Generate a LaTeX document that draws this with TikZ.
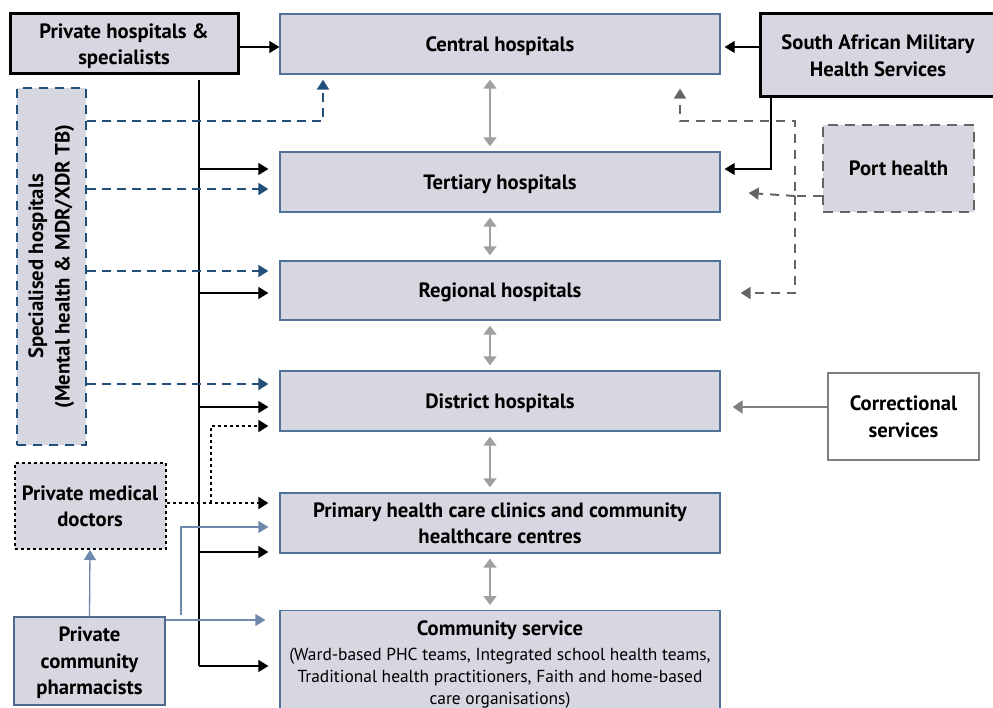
\documentclass[tikz,border=0pt]{standalone}
\usepackage{fontspec}
\setmainfont{PT Sans}
\usetikzlibrary{arrows.meta}
\definecolor{boxfill}{RGB}{215,215,225}
\definecolor{mainedge}{RGB}{80,115,155}
\definecolor{specblue}{RGB}{35,80,122}
\definecolor{pharmblue}{RGB}{80,105,140}
\definecolor{pharmline}{RGB}{110,135,170}
\definecolor{dgray}{RGB}{100,100,100}
\definecolor{mgray}{RGB}{128,128,128}
\definecolor{lgray}{RGB}{160,160,160}
\newcommand{\rg}{\mdseries\fontsize{17.4}{22}\selectfont}
\tikzset{
  lbl/.style={font=\bfseries\fontsize{20.7}{26.5}\selectfont, align=center, text depth=0pt},
  mainbox/.style={lbl, draw=mainedge, line width=1.3pt, fill=boxfill, minimum width=440, minimum height=60, inner sep=0},
  blackbox/.style={lbl, draw=black, line width=3pt, fill=boxfill, inner sep=0},
  blk/.style={black, line width=1.2pt, -{Triangle[length=10pt,width=12pt]}},
  bluedash/.style={specblue, line width=2pt, dash pattern=on 9pt off 6pt, -{Triangle[length=10pt,width=12pt]}},
  dotline/.style={black, line width=2pt, dash pattern=on 3pt off 3pt, -{Triangle[length=10pt,width=12pt]}},
  pline/.style={pharmline, line width=1.3pt, -{Triangle[length=10pt,width=12pt]}},
  grayarr/.style={lgray, line width=1.8pt, {Triangle[length=9pt,width=13pt]}-{Triangle[length=9pt,width=13pt]}, shorten <=5pt, shorten >=5pt},
  portdash/.style={dgray, line width=2pt, dash pattern=on 9pt off 7pt, -{Triangle[length=10pt,width=12pt]}},
}
\begin{document}
\begin{tikzpicture}[x=1pt,y=-1pt]
\useasboundingbox (0,0) rectangle (993,708);
% main column
\node[mainbox] (central) at (500,44) {Central hospitals};
\node[mainbox] (tertiary) at (500,182) {Tertiary hospitals};
\node[mainbox, minimum height=59] (regional) at (500,290.5) {Regional hospitals};
\node[mainbox] (district) at (500,401) {District hospitals};
\node[mainbox] (phc) at (500,523) {Primary health care clinics and community\\healthcare centres};
\node[mainbox, font=\bfseries\fontsize{20.7}{22}\selectfont, minimum height=110, anchor=north, text depth=6pt] (community) at (500,610) {Community service\\[3pt]\rg (Ward-based PHC teams, Integrated school health teams,\\\rg Traditional health practitioners, Faith and home-based\\\rg care organisations)};
% side boxes
\node[blackbox, minimum width=228, minimum height=60] (privhosp) at (124,44) {Private hospitals \&\\specialists};
\node[blackbox, minimum width=236, minimum height=83] (samhs) at (878,55.5) {South African Military\\Health Services};
\node[lbl, draw=dgray, line width=2.5pt, dash pattern=on 10pt off 7pt, fill=boxfill, minimum width=151, minimum height=87, inner sep=0] (port) at (898.5,168.5) {Port health};
\node[lbl, draw=mgray, line width=1.8pt, fill=white, minimum width=151, minimum height=87, inner sep=0] (correct) at (903.5,416.5) {Correctional\\services};
\node[lbl, draw=specblue, line width=2.5pt, dash pattern=on 9pt off 7pt, fill=boxfill, minimum width=69, minimum height=357, inner sep=0] (special) at (51.5,266.5) {};
\node[lbl, rotate=90, text depth=5pt] at (special.center) {Specialised hospitals\\(Mental health \& MDR/XDR TB)};
\node[lbl, draw=black, line width=2pt, dash pattern=on 3pt off 3pt, fill=boxfill, minimum width=151, minimum height=86, inner sep=0] (doctors) at (90,506) {Private medical\\doctors};
\node[lbl, draw=pharmblue, line width=2pt, fill=boxfill, minimum width=151, minimum height=88, inner sep=0] (pharm) at (89.5,661) {Private\\community\\pharmacists};
% gray double arrows between levels
\draw[grayarr] (central.south -| 490,0) -- (tertiary.north -| 490,0);
\draw[grayarr] (tertiary.south -| 490,0) -- (regional.north -| 490,0);
\draw[grayarr] (regional.south -| 490,0) -- (district.north -| 490,0);
\draw[grayarr] (district.south -| 490,0) -- (phc.north -| 490,0);
\draw[grayarr] (phc.south -| 490,0) -- (community.north -| 490,0);
% private hospitals
\draw[blk] (privhosp.east |- 0,47) -- (central.west |- 0,47);
\coordinate (trunktop) at (199,80);
\coordinate (trunkbot) at (199,666);
\draw[black, line width=1.2pt] (trunktop) -- (trunkbot);
\draw[blk] (199,169) -- ([xshift=-11pt]tertiary.west |- 0,169);
\draw[blk] (199,293) -- ([xshift=-11pt]regional.west |- 0,293);
\draw[blk] (199,407) -- ([xshift=-11pt]district.west |- 0,407);
\draw[blk] (199,552) -- ([xshift=-11pt]phc.west |- 0,552);
\draw[blk] (trunkbot) -- ([xshift=-11pt]community.west |- 0,666);
% SAMHS
\draw[blk] (samhs.west |- 0,47) -- ([xshift=4pt]central.east |- 0,47);
\draw[blk] (samhs.south -| 771,0) -- (771,169) -- ([xshift=4pt]tertiary.east |- 0,169);
% specialised
\draw[bluedash] (special.east |- 0,121) -- (323,121) -- ([yshift=-5pt]central.south -| 323,0);
\draw[bluedash] (special.east |- 0,189) -- ([xshift=-11pt]tertiary.west |- 0,189);
\draw[bluedash] (special.east |- 0,271) -- ([xshift=-11pt]regional.west |- 0,271);
\draw[bluedash] (special.east |- 0,384) -- ([xshift=-11pt]district.west |- 0,384);
% doctors
\draw[dotline] (doctors.east |- 0,503) -- ([xshift=-11pt]phc.west |- 0,503);
\draw[dotline] (211,503) -- (211,426) -- ([xshift=-11pt]district.west |- 0,426);
% pharmacists
\draw[pline] (pharm.north) -- (doctors.south);
\draw[pline] (pharm.east |- 0,620) -- ([xshift=-14pt]community.west |- 0,620);
\draw[pline] (181,615) -- (181,527) -- ([xshift=-11pt]phc.west |- 0,527);
% port health
\coordinate (pj) at (795,196);
\draw[portdash] (port.west |- pj) -- (pj) -- (795,121) -- (680,121) -- ([yshift=-14pt]central.south -| 680,0);
\draw[portdash] (pj) -- ([xshift=28pt]tertiary.east |- 0,193);
\draw[portdash] (pj) -- (795,293) -- ([xshift=20pt]regional.east |- 0,293);
% correctional
\draw[mgray, line width=2pt, -{Triangle[length=10pt,width=13pt]}] (correct.west |- 0,407) -- ([xshift=12pt]district.east |- 0,407);
\end{tikzpicture}
\end{document}
